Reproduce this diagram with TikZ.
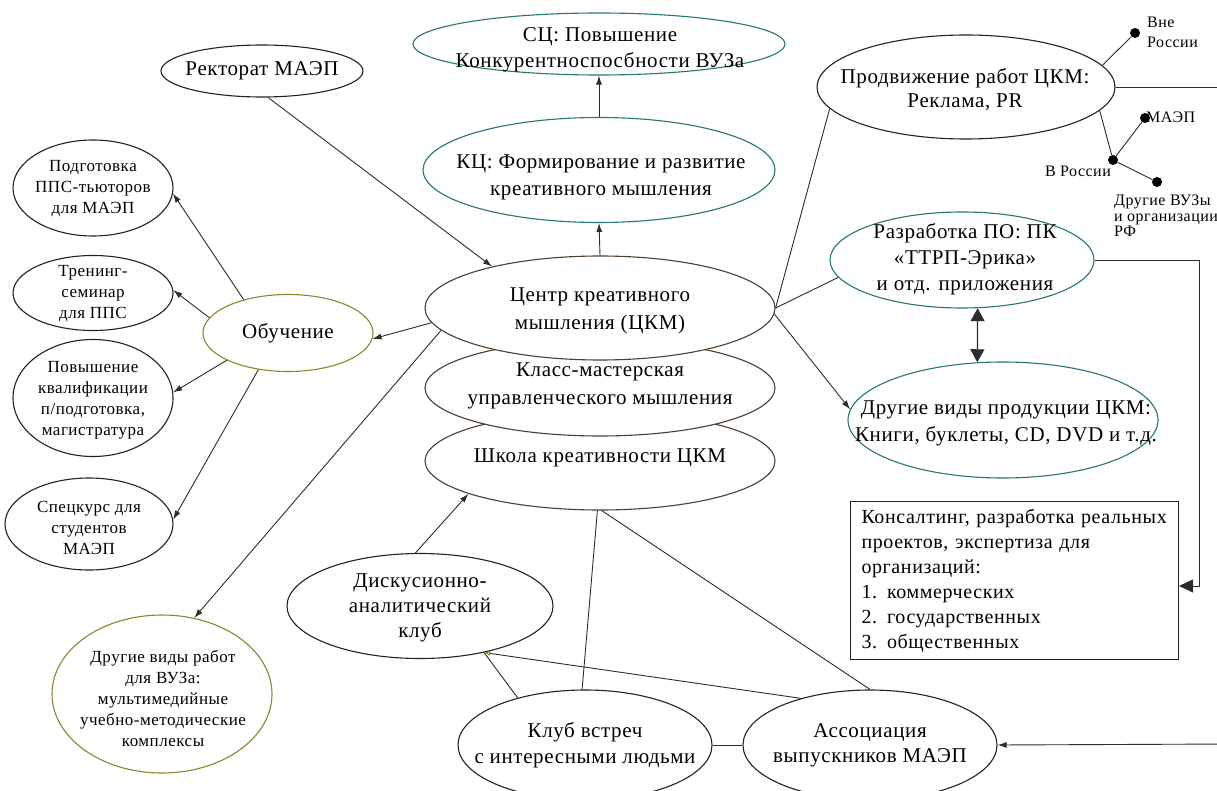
\documentclass[tikz,border=0pt]{standalone}
\usepackage{fontspec}
\setmainfont{Liberation Serif}[LetterSpace=3]
\usetikzlibrary{shapes.geometric,arrows.meta,calc}

\definecolor{tealC}{RGB}{38,118,116}
\definecolor{oliveC}{RGB}{140,135,45}
\definecolor{brownC}{RGB}{78,62,46}
\definecolor{inkC}{RGB}{35,35,35}
\definecolor{lineC}{RGB}{45,45,45}

\newcommand{\fbig}[1]{\fontsize{21pt}{#1pt}\selectfont}
\newcommand{\fsmall}{\fontsize{17pt}{21pt}\selectfont}
\newcommand{\ftiny}{\fontsize{16pt}{16pt}\selectfont}

\begin{document}
\begin{tikzpicture}[x=1pt,y=-1pt,
  oval/.style 2 args={ellipse, draw=inkC, fill=white, line width=1.1pt,
    inner sep=0pt, minimum width=#1, minimum height=#2},
  txt/.style={inner sep=0pt, align=center, font=\fbig{26}},
  conn/.style={draw=lineC, line width=0.9pt},
  arr/.style={conn, -{Latex[length=9pt,width=6pt]}},
  bigarr/.style={conn, -{Triangle[length=14pt,width=13pt]}},
  dblarr/.style={conn, line width=1.2pt,
    {Triangle[length=13pt,width=14pt]}-{Triangle[length=13pt,width=14pt]}},
  tinyarr/.style={conn, -{Latex[open,length=6pt,width=5pt,color=oliveC]}},
  dotc/.style={circle, fill=black, inner sep=0pt, minimum size=10pt},
  lbl/.style={inner sep=0pt, align=left, font=\ftiny}]

\useasboundingbox (0,0) rectangle (1217,791);
\clip (0,0) rectangle (1217,791);
\fill[white] (0,0) rectangle (1217,791);

% goals
\node[oval={372pt}{62pt}, draw=tealC] (sc) at (599,44) {};
\node[txt] (sc-t) at (600,50) {СЦ: Повышение\\Конкурентноспосбности ВУЗа};
\node[oval={352pt}{105pt}, draw=tealC] (kc) at (599,170) {};
\node[txt, font=\fbig{27}] (kc-t) at (601,177) {КЦ: Формирование и развитие\\креативного мышления};

\node[oval={202pt}{52pt}] (rect) at (262,71) {};
\node[txt] (rect-t) at (262,71) {Ректорат МАЭП};

% the centre and its two units, stacked
\node[oval={350pt}{98pt}, draw=brownC] (shk) at (600,461) {};
\node[txt] (shk-t) at (600,458) {Школа креативности ЦКМ};
\node[oval={350pt}{96pt}, draw=brownC] (kls) at (600,388) {};
\node[txt, font=\fbig{28}] (kls-t) at (600,386) {Класс-мастерская\\управленческого мышления};
\node[oval={350pt}{104pt}, draw=brownC] (ckm) at (600,308) {};
\node[txt, font=\fbig{28}] (ckm-t) at (600,311) {Центр креативного\\мышления (ЦКМ)};

% teaching branch
\node[oval={170pt}{77pt}, draw=oliveC] (obu) at (288,333) {};
\node[txt] (obu-t) at (288,333) {Обучение};
\node[oval={160pt}{96pt}] (pod) at (93,188) {};
\node[txt, font=\fsmall] (pod-t) at (93,189) {Подготовка\\ППС-тьюторов\\для МАЭП};
\node[oval={160pt}{75pt}] (tre) at (93,293) {};
\node[txt, font=\fsmall] (tre-t) at (93,294) {Тренинг-\\семинар\\для ППС};
\node[oval={160pt}{117pt}] (pov) at (93,398) {};
\node[txt, font=\fsmall] (pov-t) at (93,400) {Повышение\\квалификации\\п/подготовка,\\магистратура};
\node[oval={168pt}{92pt}] (spc) at (89,524) {};
\node[txt, font=\fsmall] (spc-t) at (89,528) {Спецкурс для\\студентов\\МАЭП};
\node[oval={220pt}{158pt}, draw=oliveC] (drw) at (162,694) {};
\node[txt, font=\fsmall] (drw-t) at (163,698)
  {Другие виды работ\\для ВУЗа:\\мультимедийные\\учебно-методические\\комплексы};

% clubs and alumni
\node[oval={266pt}{105pt}] (dis) at (420,606) {};
\node[txt, font=\fbig{25}] (dis-t) at (420,608) {Дискусионно-\\аналитический\\клуб};
\node[oval={254pt}{110pt}] (klb) at (585,745) {};
\node[txt] (klb-t) at (585,745) {Клуб встреч\\с интересными людьми};
\node[oval={254pt}{110pt}] (aso) at (870,745) {};
\node[txt, font=\fbig{25}] (aso-t) at (870,745) {Ассоциация\\выпускников МАЭП};

% products and promotion
\node[oval={298pt}{104pt}] (pro) at (966,87) {};
\node[txt, font=\fbig{24}] (pro-t) at (965,90) {Продвижение работ ЦКМ:\\Реклама, PR};
\node[oval={264pt}{96pt}, draw=tealC] (raz) at (962,260) {};
\node[txt] (raz-t) at (965,259) {Разработка ПО: ПК\\«ТТРП-Эрика»\\ и отд. приложения};
\node[oval={310pt}{116pt}, draw=tealC] (drp) at (1003,420) {};
\node[txt, font=\fbig{27}] (drp-t) at (1006,423)
  {Другие виды продукции ЦКМ:\\Книги, буклеты, CD, DVD и т.д.};

\node[draw=inkC, line width=1pt, rectangle, anchor=north west,
  minimum width=328pt, minimum height=158pt, text width=306pt,
  inner xsep=11pt, inner ysep=0pt, align=left,
  font=\fontsize{20pt}{25pt}\selectfont] (box) at (850,501)
  {Консалтинг, разработка реальных\\проектов, экспертиза для\\организаций:\\1. коммерческих\\2. государственных\\3. общественных};

% promotion tree
\node[dotc] (dvne) at (1135,33) {};
\node[dotc] (dvr) at (1113,160) {};
\node[dotc] (dmaep) at (1145,118) {};
\node[dotc] (ddr) at (1157,182) {};
\node[lbl, anchor=west, font=\fontsize{16pt}{20pt}\selectfont] (tvne) at (1147,32) {Вне\\России};
\node[lbl, anchor=west] (tmaep) at (1146,117) {МАЭП};
\node[lbl, anchor=east] (tvr) at (1111,171) {В России};
\node[lbl, anchor=north west, font=\fontsize{16pt}{15.5pt}\selectfont] (tdr) at (1114,195)
  {Другие ВУЗы\\и организации\\РФ};

\coordinate (eR1) at (1230,87);
\coordinate (eR2) at (1230,744);
\coordinate (rcol) at (1199,586);

% connectors
\draw[arr] (kc.north) -- (sc.south);
\draw[arr] (ckm.north) -- (kc.south);
\draw[arr] (rect.-77) -- (ckm.159);
\draw[arr] (ckm.185) -- (obu.-4);
\draw[arr] (ckm.188) -- (drw.67);
\draw[arr] (obu.143) -- (pod.-4);
\draw[arr] (obu.169) -- (tre.2);
\draw[arr] (obu.204) -- (pov.4);
\draw[arr] (obu.231) -- (spc.3);

\draw[conn] (ckm.0) -- (pro.189);
\draw[conn] (ckm.0) -- (raz.188);
\draw[arr] (ckm.-2) -- (drp.176);
\draw[dblarr] (raz.-72.5) -- (drp.114);
\draw[bigarr] (raz.east) -| (rcol) -- (rcol -| box.east);

\draw[conn] (pro.east) -- (eR1);
\draw[conn] (pro.9) -- (dvne);
\draw[conn] (pro.-10) -- (dvr);
\draw[conn] (dvr) -- (dmaep);
\draw[conn] (dvr) -- (ddr);

\draw[arr] (dis.95) -- (shk.194);
\draw[conn] (shk.-93) -- (klb.93);
\draw[conn] (shk.-88) -- (aso.north);
\draw[conn] (klb.145) -- (dis.-36);
\draw[tinyarr] (aso.146) -- (dis.-36);
\draw[conn] (klb.east) -- (aso.west);
\draw[arr] (eR2) -- (aso.east);

\end{tikzpicture}
\end{document}
